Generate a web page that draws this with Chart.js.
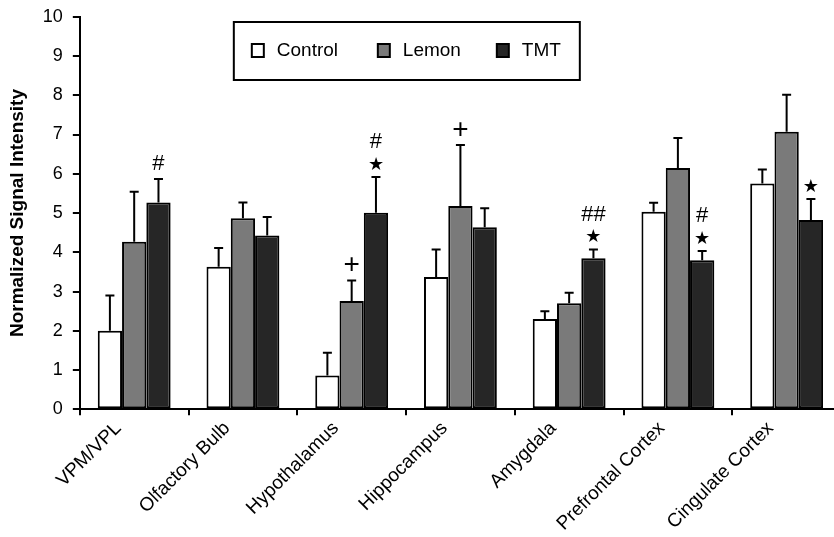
<!DOCTYPE html>
<html>
<head>
<meta charset="utf-8">
<script src="https://cdn.jsdelivr.net/npm/chart.js@4"></script>
<style>
  html, body { margin: 0; padding: 0; background: #fff; overflow: hidden; }
  #wrap { width: 841px; height: 537px; position: relative; }
</style>
</head>
<body>
<div id="wrap"><canvas id="c"></canvas></div>
<script>
const categories = ['VPM/VPL', 'Olfactory Bulb', 'Hypothalamus', 'Hippocampus', 'Amygdala', 'Prefrontal Cortex', 'Cingulate Cortex'];
const seriesNames = ['Control', 'Lemon', 'TMT'];
const controlValues = [2.0, 3.63, 0.86, 3.37, 2.30, 5.03, 5.75];
const controlErrors = [0.90, 0.48, 0.58, 0.70, 0.20, 0.23, 0.36];
const lemonValues = [4.27, 4.87, 2.76, 5.18, 2.70, 6.15, 7.07];
const lemonErrors = [1.27, 0.40, 0.52, 1.55, 0.27, 0.76, 0.94];
const tmtValues = [5.27, 4.43, 5.01, 4.64, 3.85, 3.80, 4.82];
const tmtErrors = [0.60, 0.47, 0.91, 0.48, 0.22, 0.23, 0.54];
// significance marks, listed from bottom to top
const controlMarks = [[], [], [], [], [], [], []];
const lemonMarks = [[], [], ['+'], ['+'], [], [], []];
const tmtMarks = [['#'], [], ['★', '#'], [], ['★', '##'], ['★', '#'], ['★']];
const yTicks = [0, 1, 2, 3, 4, 5, 6, 7, 8, 9, 10];
const yTitle = 'Normalized Signal Intensity';

const FONT = "'Liberation Sans', Arial, sans-serif";
const fills = ['#ffffff', '#7a7a7a', '#262626'];

const errorsBySeries = [controlErrors, lemonErrors, tmtErrors];
const marksBySeries = [controlMarks, lemonMarks, tmtMarks];

const errorBarPlugin = {
  id: 'errorBars',
  afterDatasetsDraw(chart) {
    const ctx = chart.ctx;
    const yScale = chart.scales.y;
    chart.data.datasets.forEach((ds, di) => {
      const meta = chart.getDatasetMeta(di);
      const errs = errorsBySeries[di];
      const marks = marksBySeries[di];
      meta.data.forEach((bar, i) => {
        const v = ds.data[i];
        const top = yScale.getPixelForValue(v + errs[i]);
        const base = yScale.getPixelForValue(v);
        const x = bar.x;
        ctx.save();
        ctx.strokeStyle = '#000';
        ctx.lineWidth = 2;
        ctx.beginPath();
        ctx.moveTo(x, base);
        ctx.lineTo(x, top);
        ctx.moveTo(x - 4.5, top);
        ctx.lineTo(x + 4.5, top);
        ctx.stroke();
        // marks
        let y = top - 6;
        ctx.fillStyle = '#000';
        ctx.textAlign = 'center';
        ctx.textBaseline = 'middle';
        marks[i].forEach(m => {
          let h, font;
          if (m === '★') { h = 12; font = "18px 'DejaVu Sans', sans-serif"; }
          else if (m === '+') { h = 18; font = '28px ' + FONT; }
          else { h = 18; font = '22px ' + FONT; }
          ctx.font = font;
          ctx.fillText(m, x, y - h / 2);
          y -= h + 8;
        });
        ctx.restore();
      });
    });
  }
};

const legendPlugin = {
  id: 'boxLegend',
  afterDraw(chart) {
    const ctx = chart.ctx;
    const ca = chart.chartArea;
    const left = ca.left + 154, top = 22, w = 346, h = 58;
    ctx.save();
    ctx.fillStyle = '#fff';
    ctx.fillRect(left, top, w, h);
    ctx.strokeStyle = '#000';
    ctx.lineWidth = 2;
    ctx.strokeRect(left, top, w, h);
    const itemX = [left + 18, left + 144, left + 263];
    ctx.font = '19px ' + FONT;
    ctx.textBaseline = 'middle';
    ctx.textAlign = 'left';
    seriesNames.forEach((name, k) => {
      const sx = itemX[k], sy = top + 22;
      ctx.fillStyle = fills[k];
      ctx.fillRect(sx, sy, 12, 13);
      ctx.strokeStyle = '#000';
      ctx.lineWidth = 2;
      ctx.strokeRect(sx, sy, 12, 13);
      ctx.fillStyle = '#000';
      ctx.fillText(name, sx + 25, sy + 7);
    });
    ctx.restore();
  }
};

const datasets = [controlValues, lemonValues, tmtValues].map((vals, k) => ({
  label: seriesNames[k],
  data: vals,
  backgroundColor: fills[k],
  borderColor: '#000',
  borderWidth: 2,
  borderSkipped: false,
  categoryPercentage: 0.67,
  barPercentage: 1.0
}));

new Chart(document.getElementById('c'), {
  type: 'bar',
  data: { labels: categories, datasets },
  plugins: [errorBarPlugin, legendPlugin],
  options: {
    responsive: true,
    maintainAspectRatio: false,
    animation: false,
    devicePixelRatio: 1,
    layout: { padding: { left: 2, top: 0, right: 0, bottom: 0 } },
    plugins: { legend: { display: false }, tooltip: { enabled: false } },
    scales: {
      x: {
        grid: { display: true, drawOnChartArea: false, drawTicks: true, tickLength: 6, color: '#000', lineWidth: 2, offset: true },
        border: { display: true, color: '#000', width: 2 },
        ticks: {
          color: '#000', font: { family: FONT, size: 19 },
          maxRotation: 45, minRotation: 45, autoSkip: false, padding: 2, labelOffset: -16
        }
      },
      y: {
        min: 0, max: 10,
        afterBuildTicks(scale) { scale.ticks = yTicks.map(v => ({ value: v })); },
        grid: { display: true, drawOnChartArea: false, drawTicks: true, tickLength: 7, color: '#000', lineWidth: 2 },
        border: { display: true, color: '#000', width: 2 },
        ticks: { color: '#000', font: { family: FONT, size: 18, lineHeight: 0.75 }, padding: 10 },
        title: { display: true, text: yTitle, color: '#000', font: { family: FONT, size: 19, weight: 'bold' }, padding: { top: 4, bottom: 4 } }
      }
    }
  }
});
</script>
</body>
</html>
